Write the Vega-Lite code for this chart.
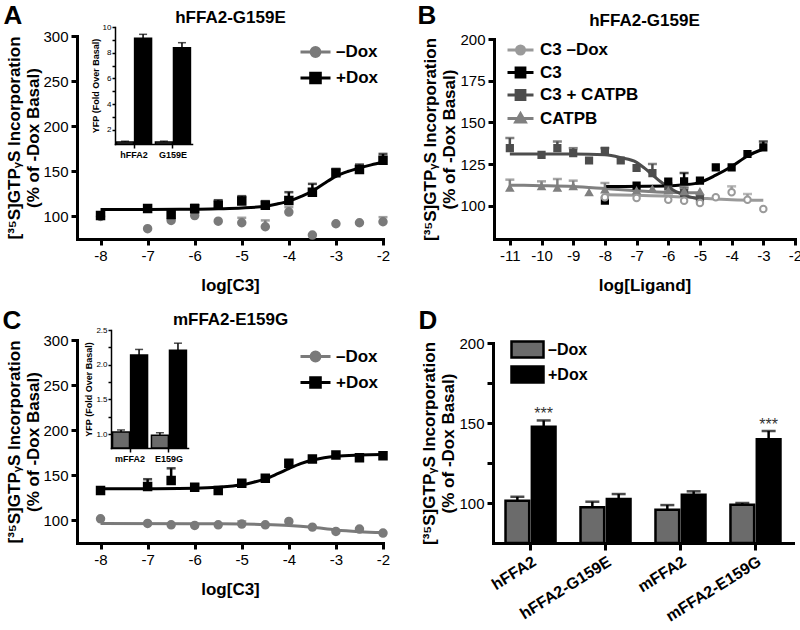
{
"$schema": "https://vega.github.io/schema/vega-lite/v6.json",
"background": "white",
"width": 800, "height": 630,
"autosize": {"type": "none"},
"padding": 0,
"config": {
 "font": "Liberation Sans",
 "view": {"stroke": null},
 "axis": {"domainColor": "#000", "domainWidth": 3, "domainCap": "square", "tickColor": "#000", "tickWidth": 3, "tickSize": 6, "labelFont": "Liberation Sans", "labelFontSize": 15, "labelColor": "#000", "labelPadding": 3, "labelFlush": false, "labelOverlap": false, "titleFont": "Liberation Sans", "titleFontSize": 17, "titleFontWeight": "bold", "titleColor": "#000", "grid": false},
 "legend": {"labelFont": "Liberation Sans", "labelFontSize": 17, "labelFontWeight": "bold", "labelColor": "#000", "padding": 0, "symbolStrokeWidth": 3, "symbolOpacity": 1}
},
"datasets": {
 "A_pts": [
  {"series": "–Dox", "x": -8, "y": 100},
  {"series": "–Dox", "x": -7, "y": 86.4},
  {"series": "–Dox", "x": -6.5, "y": 95.6},
  {"series": "–Dox", "x": -6, "y": 101},
  {"series": "–Dox", "x": -5.5, "y": 94.8},
  {"series": "–Dox", "x": -5, "y": 93, "hi": 98.5},
  {"series": "–Dox", "x": -4.5, "y": 88.6, "hi": 95.6},
  {"series": "–Dox", "x": -4, "y": 104.8, "hi": 110.3},
  {"series": "–Dox", "x": -3.5, "y": 79.4},
  {"series": "–Dox", "x": -3, "y": 91.9},
  {"series": "–Dox", "x": -2.5, "y": 93},
  {"series": "–Dox", "x": -2, "y": 94.1, "hi": 99.2},
  {"series": "+Dox", "x": -8, "y": 101},
  {"series": "+Dox", "x": -7, "y": 108.8},
  {"series": "+Dox", "x": -6.5, "y": 102.2},
  {"series": "+Dox", "x": -6, "y": 108.5, "hi": 113},
  {"series": "+Dox", "x": -5.5, "y": 112.5, "hi": 118},
  {"series": "+Dox", "x": -5, "y": 117, "hi": 122.5},
  {"series": "+Dox", "x": -4.5, "y": 112.5, "hi": 117},
  {"series": "+Dox", "x": -4, "y": 117.7, "hi": 126.9},
  {"series": "+Dox", "x": -3.5, "y": 126.9, "hi": 136.1},
  {"series": "+Dox", "x": -3, "y": 148.3, "hi": 152.7},
  {"series": "+Dox", "x": -2.5, "y": 152, "hi": 157.5},
  {"series": "+Dox", "x": -2, "y": 162.2, "hi": 169.3}
 ],
 "A_curve": [
  {"series": "+Dox", "x": -8, "y": 107.8},
  {"series": "+Dox", "x": -7, "y": 107.8},
  {"series": "+Dox", "x": -6, "y": 108},
  {"series": "+Dox", "x": -5.5, "y": 108.5},
  {"series": "+Dox", "x": -5, "y": 109.3},
  {"series": "+Dox", "x": -4.5, "y": 111.4},
  {"series": "+Dox", "x": -4.25, "y": 113.8},
  {"series": "+Dox", "x": -4, "y": 117},
  {"series": "+Dox", "x": -3.75, "y": 122},
  {"series": "+Dox", "x": -3.5, "y": 128},
  {"series": "+Dox", "x": -3.25, "y": 136.5},
  {"series": "+Dox", "x": -3, "y": 144.5},
  {"series": "+Dox", "x": -2.75, "y": 149.8},
  {"series": "+Dox", "x": -2.5, "y": 153.8},
  {"series": "+Dox", "x": -2.25, "y": 157.2},
  {"series": "+Dox", "x": -2, "y": 160}
 ],
 "A_inset": [
  {"g": "hFFA2", "dox": "–Dox", "val": 1.05, "hi": 1.12},
  {"g": "hFFA2", "dox": "+Dox", "val": 9.12, "hi": 9.43},
  {"g": "G159E", "dox": "–Dox", "val": 1.05, "hi": 1.12},
  {"g": "G159E", "dox": "+Dox", "val": 8.39, "hi": 8.78}
 ],
 "B_pts": [
  {"series": "C3 –Dox", "x": -8, "y": 105},
  {"series": "C3 –Dox", "x": -7, "y": 104.6},
  {"series": "C3 –Dox", "x": -6, "y": 103.6},
  {"series": "C3 –Dox", "x": -5.5, "y": 103},
  {"series": "C3 –Dox", "x": -5, "y": 101.6},
  {"series": "C3 –Dox", "x": -4.5, "y": 105},
  {"series": "C3 –Dox", "x": -4, "y": 108, "hi": 111.6},
  {"series": "C3 –Dox", "x": -3.5, "y": 103.6, "hi": 107},
  {"series": "C3 –Dox", "x": -3, "y": 98},
  {"series": "CATPB", "x": -11, "y": 110.6, "hi": 115.6},
  {"series": "CATPB", "x": -10, "y": 111.6, "hi": 114.6},
  {"series": "CATPB", "x": -9.5, "y": 110.6, "hi": 116},
  {"series": "CATPB", "x": -9, "y": 111.6, "hi": 115},
  {"series": "CATPB", "x": -8.5, "y": 108},
  {"series": "CATPB", "x": -8, "y": 109.6, "hi": 113.6},
  {"series": "CATPB", "x": -7, "y": 109},
  {"series": "CATPB", "x": -6.5, "y": 110},
  {"series": "CATPB", "x": -6, "y": 109},
  {"series": "CATPB", "x": -5.5, "y": 108.6, "hi": 111.6},
  {"series": "CATPB", "x": -5, "y": 108.5},
  {"series": "C3 + CATPB", "x": -11, "y": 134.5, "hi": 140.6},
  {"series": "C3 + CATPB", "x": -10, "y": 130.5},
  {"series": "C3 + CATPB", "x": -9.5, "y": 134.5, "hi": 138.5},
  {"series": "C3 + CATPB", "x": -9, "y": 131.5, "hi": 134.5},
  {"series": "C3 + CATPB", "x": -8.5, "y": 127.1},
  {"series": "C3 + CATPB", "x": -8, "y": 132.9, "hi": 134.5},
  {"series": "C3 + CATPB", "x": -7.5, "y": 127.1},
  {"series": "C3 + CATPB", "x": -7, "y": 122.6},
  {"series": "C3 + CATPB", "x": -6.5, "y": 119.5, "hi": 125},
  {"series": "C3 + CATPB", "x": -6, "y": 111.5},
  {"series": "C3 + CATPB", "x": -5.5, "y": 107.6, "hi": 110.5},
  {"series": "C3 + CATPB", "x": -5, "y": 104.5},
  {"series": "C3", "x": -8, "y": 103},
  {"series": "C3", "x": -7, "y": 112},
  {"series": "C3", "x": -6, "y": 114.5},
  {"series": "C3", "x": -5.5, "y": 114.6, "hi": 119.6},
  {"series": "C3", "x": -5, "y": 115},
  {"series": "C3", "x": -4.5, "y": 123},
  {"series": "C3", "x": -4, "y": 123},
  {"series": "C3", "x": -3.5, "y": 131},
  {"series": "C3", "x": -3, "y": 135, "hi": 138.5}
 ],
 "B_curve": [
  {"series": "C3 –Dox", "x": -8, "y": 106.5},
  {"series": "C3 –Dox", "x": -7, "y": 106.2},
  {"series": "C3 –Dox", "x": -6, "y": 105.7},
  {"series": "C3 –Dox", "x": -5, "y": 104.5},
  {"series": "C3 –Dox", "x": -4, "y": 103.5},
  {"series": "C3 –Dox", "x": -3, "y": 103.2},
  {"series": "CATPB", "x": -11, "y": 112.3},
  {"series": "CATPB", "x": -10, "y": 112},
  {"series": "CATPB", "x": -9, "y": 111.5},
  {"series": "CATPB", "x": -8, "y": 110.3},
  {"series": "CATPB", "x": -7, "y": 109},
  {"series": "CATPB", "x": -6, "y": 108},
  {"series": "CATPB", "x": -5, "y": 107.7},
  {"series": "C3 + CATPB", "x": -11, "y": 131},
  {"series": "C3 + CATPB", "x": -9, "y": 131},
  {"series": "C3 + CATPB", "x": -8, "y": 130.5},
  {"series": "C3 + CATPB", "x": -7.5, "y": 128.8},
  {"series": "C3 + CATPB", "x": -7, "y": 126},
  {"series": "C3 + CATPB", "x": -6.75, "y": 122.5},
  {"series": "C3 + CATPB", "x": -6.5, "y": 118.5},
  {"series": "C3 + CATPB", "x": -6.25, "y": 114.5},
  {"series": "C3 + CATPB", "x": -6, "y": 111},
  {"series": "C3 + CATPB", "x": -5.5, "y": 106.3},
  {"series": "C3 + CATPB", "x": -5, "y": 104},
  {"series": "C3", "x": -8, "y": 111.5},
  {"series": "C3", "x": -6, "y": 111.8},
  {"series": "C3", "x": -5.5, "y": 112.5},
  {"series": "C3", "x": -5, "y": 114},
  {"series": "C3", "x": -4.5, "y": 118.3},
  {"series": "C3", "x": -4, "y": 123.5},
  {"series": "C3", "x": -3.5, "y": 129.8},
  {"series": "C3", "x": -3, "y": 134}
 ],
 "C_pts": [
  {"series": "–Dox", "x": -8, "y": 101.8},
  {"series": "–Dox", "x": -7, "y": 96.7},
  {"series": "–Dox", "x": -6.5, "y": 95.2},
  {"series": "–Dox", "x": -6, "y": 94.5},
  {"series": "–Dox", "x": -5.5, "y": 95.2},
  {"series": "–Dox", "x": -5, "y": 96, "hi": 99},
  {"series": "–Dox", "x": -4.5, "y": 95.2},
  {"series": "–Dox", "x": -4, "y": 98.9},
  {"series": "–Dox", "x": -3.5, "y": 92.6},
  {"series": "–Dox", "x": -3, "y": 87.8},
  {"series": "–Dox", "x": -2.5, "y": 90.4},
  {"series": "–Dox", "x": -2, "y": 86},
  {"series": "+Dox", "x": -8, "y": 133.1},
  {"series": "+Dox", "x": -7, "y": 137.6, "hi": 145.7},
  {"series": "+Dox", "x": -6.5, "y": 144.2, "hi": 157.8},
  {"series": "+Dox", "x": -6, "y": 136.8, "hi": 140},
  {"series": "+Dox", "x": -5.5, "y": 133.1},
  {"series": "+Dox", "x": -5, "y": 141.3, "hi": 144},
  {"series": "+Dox", "x": -4.5, "y": 146.8},
  {"series": "+Dox", "x": -4, "y": 163.4},
  {"series": "+Dox", "x": -3.5, "y": 168.1},
  {"series": "+Dox", "x": -3, "y": 172.6},
  {"series": "+Dox", "x": -2.5, "y": 169.6},
  {"series": "+Dox", "x": -2, "y": 171.8}
 ],
 "C_curve": [
  {"series": "–Dox", "x": -8, "y": 96.5},
  {"series": "–Dox", "x": -6, "y": 96.4},
  {"series": "–Dox", "x": -5, "y": 96.1},
  {"series": "–Dox", "x": -4.5, "y": 95.6},
  {"series": "–Dox", "x": -4, "y": 94.5},
  {"series": "–Dox", "x": -3.5, "y": 92.4},
  {"series": "–Dox", "x": -3, "y": 89.4},
  {"series": "–Dox", "x": -2.5, "y": 87.6},
  {"series": "–Dox", "x": -2, "y": 86.5},
  {"series": "+Dox", "x": -8, "y": 135},
  {"series": "+Dox", "x": -7, "y": 135.2},
  {"series": "+Dox", "x": -6, "y": 135.7},
  {"series": "+Dox", "x": -5.5, "y": 136.8},
  {"series": "+Dox", "x": -5, "y": 139.5},
  {"series": "+Dox", "x": -4.75, "y": 142.3},
  {"series": "+Dox", "x": -4.5, "y": 146},
  {"series": "+Dox", "x": -4.25, "y": 151.5},
  {"series": "+Dox", "x": -4, "y": 157.5},
  {"series": "+Dox", "x": -3.75, "y": 163},
  {"series": "+Dox", "x": -3.5, "y": 167},
  {"series": "+Dox", "x": -3.25, "y": 169.6},
  {"series": "+Dox", "x": -3, "y": 171.2},
  {"series": "+Dox", "x": -2.5, "y": 172.5},
  {"series": "+Dox", "x": -2, "y": 173}
 ],
 "C_inset": [
  {"g": "mFFA2", "dox": "–Dox", "val": 1.03, "hi": 1.06},
  {"g": "mFFA2", "dox": "+Dox", "val": 2.14, "hi": 2.22},
  {"g": "E159G", "dox": "–Dox", "val": 0.985, "hi": 1.02},
  {"g": "E159G", "dox": "+Dox", "val": 2.21, "hi": 2.31}
 ],
 "D": [
  {"receptor": "hFFA2", "dox": "–Dox", "val": 101.4, "hi": 103.9, "sig": ""},
  {"receptor": "hFFA2", "dox": "+Dox", "val": 147.7, "hi": 151.6, "sig": "***"},
  {"receptor": "hFFA2-G159E", "dox": "–Dox", "val": 97.3, "hi": 100.8, "sig": ""},
  {"receptor": "hFFA2-G159E", "dox": "+Dox", "val": 102.5, "hi": 105.6, "sig": ""},
  {"receptor": "mFFA2", "dox": "–Dox", "val": 95.8, "hi": 98.7, "sig": ""},
  {"receptor": "mFFA2", "dox": "+Dox", "val": 105.2, "hi": 107.3, "sig": ""},
  {"receptor": "mFFA2-E159G", "dox": "–Dox", "val": 98.9, "hi": 100, "sig": ""},
  {"receptor": "mFFA2-E159G", "dox": "+Dox", "val": 139.8, "hi": 145, "sig": "***"}
 ]
},
"layer": [
 {
  "encoding": {
   "x": {"field": "x", "type": "quantitative", "scale": {"domain": [-8.5, -2], "range": [77, 383], "nice": false, "zero": false}, "axis": {"orient": "bottom", "offset": -391, "values": [-8, -7, -6, -5, -4, -3, -2], "labelExpr": "'' + datum.value", "title": "log[C3]", "titlePadding": 14}},
   "y": {"field": "y", "type": "quantitative", "scale": {"domain": [75, 300], "range": [239, 36], "nice": false, "zero": false}, "axis": {"orient": "left", "offset": -77, "values": [100, 150, 200, 250, 300], "title": ["[³⁵S]GTPᵧS Incorporation", "(% of -Dox Basal)"], "titlePadding": 0, "titleLineHeight": 19}},
   "color": {"field": "series", "type": "nominal", "scale": {"domain": ["–Dox", "+Dox"], "range": ["#7a7a7a", "#000000"]}, "legend": {"title": null, "orient": "none", "legendX": 307, "legendY": 43.5, "symbolSize": 64, "labelOffset": 12, "rowPadding": 4, "symbolStrokeWidth": 3, "symbolOpacity": 1}}
  },
  "layer": [
   {"data": {"name": "A_curve"}, "mark": {"type": "line", "strokeWidth": 3, "interpolate": "monotone"}},
   {"data": {"name": "A_pts"}, "transform": [{"filter": "isValid(datum.hi)"}], "mark": {"type": "rule", "strokeWidth": 2.5}, "encoding": {"y2": {"field": "hi"}}},
   {"data": {"name": "A_pts"}, "transform": [{"filter": "isValid(datum.hi)"}], "mark": {"type": "tick", "orient": "horizontal", "size": 9, "thickness": 2.5}, "encoding": {"y": {"field": "hi", "type": "quantitative", "axis": {"orient": "left", "offset": -77, "values": [100, 150, 200, 250, 300], "title": ["[³⁵S]GTPᵧS Incorporation", "(% of -Dox Basal)"], "titlePadding": 0, "titleLineHeight": 19}}}},
   {"data": {"name": "A_pts"}, "transform": [{"filter": "false"}], "mark": {"type": "point", "filled": false, "strokeWidth": 3, "opacity": 1}, "encoding": {
     "shape": {"field": "series", "type": "nominal", "scale": {"domain": ["–Dox", "+Dox"], "range": ["M-3.75,0H-1.1M1.1,0H3.75M-1.1,0A1.1,1.1,0,1,1,1.1,0A1.1,1.1,0,1,1,-1.1,0Z", "M-3.75,0H-1.2M1.2,0H3.75M-1.2,-1.2H1.2V1.2H-1.2Z"]}},
     "fill": {"field": "series", "type": "nominal", "scale": {"domain": ["–Dox", "+Dox"], "range": ["#7a7a7a", "#000000"]}}}},
   {"data": {"name": "A_pts"}, "transform": [{"filter": "datum.series === '–Dox'"}], "mark": {"type": "point", "shape": "circle", "filled": false, "strokeWidth": 2, "size": 56, "opacity": 1}, "encoding": {"fill": {"field": "series", "type": "nominal"}}},
   {"data": {"name": "A_pts"}, "transform": [{"filter": "datum.series === '+Dox'"}], "mark": {"type": "point", "shape": "square", "filled": false, "strokeWidth": 2, "size": 56, "opacity": 1}, "encoding": {"fill": {"field": "series", "type": "nominal"}}}
  ]
 },
 {
  "data": {"name": "A_inset"},
  "encoding": {
   "x": {"field": "g", "type": "nominal", "sort": null, "scale": {"range": [115, 192], "paddingInner": 0.1, "paddingOuter": 0.04}, "axis": {"orient": "bottom", "offset": -486, "title": null, "labelFontSize": 9, "labelFontWeight": "bold", "labelAngle": 0, "domainWidth": 1.5, "tickWidth": 1.5, "tickSize": 4, "labelPadding": 2, "bandPosition": 0.5}},
   "xOffset": {"field": "dox", "type": "nominal", "sort": null, "scale": {"domain": ["–Dox", "+Dox"], "paddingInner": 0.06}},
   "y": {"field": "val", "type": "quantitative", "scale": {"domain": [0.9, 10], "range": [144, 27], "nice": false, "zero": false}, "axis": {"orient": "left", "offset": -115, "values": [2, 3, 4, 5, 6, 7, 8, 9, 10], "labelExpr": "datum.value % 2 === 0 ? datum.label : ''", "title": "YFP (Fold Over Basal)", "titleFontSize": 9, "labelFontSize": 8, "domainWidth": 1.5, "tickWidth": 1.5, "tickSize": 3, "labelPadding": 1, "titlePadding": 2}}
  },
  "layer": [
   {"mark": {"type": "bar", "stroke": "#000", "strokeWidth": 1.5}, "encoding": {"y2": {"datum": 0.9}, "fill": {"field": "dox", "type": "nominal", "scale": {"domain": ["–Dox", "+Dox"], "range": ["#6b6b6b", "#000000"]}, "legend": null}}},
   {"mark": {"type": "rule", "strokeWidth": 1.5, "color": "#000"}, "encoding": {"y2": {"field": "hi"}}},
   {"mark": {"type": "tick", "thickness": 1.5, "size": 8, "color": "#000"}, "encoding": {"y": {"field": "hi", "type": "quantitative", "axis": {"orient": "left", "offset": -115, "values": [2, 3, 4, 5, 6, 7, 8, 9, 10], "labelExpr": "datum.value % 2 === 0 ? datum.label : ''", "title": "YFP (Fold Over Basal)", "titleFontSize": 9, "labelFontSize": 8, "domainWidth": 1.5, "tickWidth": 1.5, "tickSize": 3, "labelPadding": 1, "titlePadding": 2}}}}
  ]
 },
 {"data": {"name": "A_curve"}, "mark": {"type": "point", "opacity": 0}, "encoding": {
   "x": {"field": "x", "type": "quantitative", "axis": {"orient": "top", "offset": 0, "domain": false, "ticks": false, "labels": false, "title": "A", "titleFontSize": 26, "titleX": 3, "titleY": 23, "titleAlign": "left", "titleBaseline": "alphabetic", "titleAngle": 0}},
   "y": {"field": "y", "type": "quantitative", "axis": {"orient": "left", "offset": 0, "domain": false, "ticks": false, "labels": false, "title": "hFFA2-G159E", "titleFontSize": 17, "titleX": 230, "titleY": 22, "titleAlign": "center", "titleBaseline": "alphabetic", "titleAngle": 0}}}},
 {
  "encoding": {
   "x": {"field": "x", "type": "quantitative", "scale": {"domain": [-11.5, -2], "range": [494, 795], "nice": false, "zero": false}, "axis": {"orient": "bottom", "offset": -391, "values": [-11, -10, -9, -8, -7, -6, -5, -4, -3, -2], "labelExpr": "'' + datum.value", "title": "log[Ligand]", "titlePadding": 14}},
   "y": {"field": "y", "type": "quantitative", "scale": {"domain": [80, 200], "range": [239, 39], "nice": false, "zero": false}, "axis": {"orient": "left", "offset": -494, "values": [100, 125, 150, 175, 200], "title": ["[³⁵S]GTPᵧS Incorporation", "(% of -Dox Basal)"], "titlePadding": 1, "titleLineHeight": 19}},
   "color": {"field": "series", "type": "nominal", "scale": {"domain": ["C3 –Dox", "C3", "C3 + CATPB", "CATPB"], "range": ["#9a9a9a", "#000000", "#4d4d4d", "#808080"]}, "legend": {"title": null, "orient": "none", "legendX": 512, "legendY": 41.5, "symbolSize": 64, "labelOffset": 11, "rowPadding": 1.5, "symbolStrokeWidth": 3, "symbolOpacity": 1}}
  },
  "layer": [
   {"data": {"name": "B_curve"}, "mark": {"type": "line", "strokeWidth": 3, "interpolate": "monotone"}},
   {"data": {"name": "B_pts"}, "transform": [{"filter": "isValid(datum.hi)"}], "mark": {"type": "rule", "strokeWidth": 2.5}, "encoding": {"y2": {"field": "hi"}}},
   {"data": {"name": "B_pts"}, "transform": [{"filter": "isValid(datum.hi)"}], "mark": {"type": "tick", "orient": "horizontal", "size": 9, "thickness": 2.5}, "encoding": {"y": {"field": "hi", "type": "quantitative", "axis": {"orient": "left", "offset": -494, "values": [100, 125, 150, 175, 200], "title": ["[³⁵S]GTPᵧS Incorporation", "(% of -Dox Basal)"], "titlePadding": 1, "titleLineHeight": 19}}}},
   {"data": {"name": "B_pts"}, "transform": [{"filter": "false"}], "mark": {"type": "point", "filled": false, "strokeWidth": 3, "opacity": 1}, "encoding": {
     "shape": {"field": "series", "type": "nominal", "scale": {"domain": ["C3 –Dox", "C3", "C3 + CATPB", "CATPB"], "range": ["M-3.25,0H-1M1,0H3.25M-1,0A1,1,0,1,1,1,0A1,1,0,1,1,-1,0Z", "M-3.25,0H-1.1M1.1,0H3.25M-1.1,-1.1H1.1V1.1H-1.1Z", "M-3.25,0H-1.1M1.1,0H3.25M-1.1,-1.1H1.1V1.1H-1.1Z", "M-3.25,0H-0.7M0.7,0H3.25M0,-1.2L1.2,0.9H-1.2Z"]}},
     "fill": {"field": "series", "type": "nominal", "scale": {"domain": ["C3 –Dox", "C3", "C3 + CATPB", "CATPB"], "range": ["#ffffff", "#000000", "#4d4d4d", "#808080"]}}}},
   {"data": {"name": "B_pts"}, "transform": [{"filter": "datum.series === 'C3 + CATPB' || datum.series === 'C3'"}], "mark": {"type": "point", "shape": "square", "filled": false, "strokeWidth": 1.5, "size": 45, "opacity": 1}, "encoding": {"fill": {"field": "series", "type": "nominal"}}},
   {"data": {"name": "B_pts"}, "transform": [{"filter": "datum.series === 'CATPB'"}], "mark": {"type": "point", "shape": "triangle-up", "filled": false, "strokeWidth": 1.5, "size": 50, "opacity": 1}, "encoding": {"fill": {"field": "series", "type": "nominal"}}},
   {"data": {"name": "B_pts"}, "transform": [{"filter": "datum.series === 'C3 –Dox'"}], "mark": {"type": "point", "shape": "circle", "filled": false, "strokeWidth": 2, "size": 42, "opacity": 1}, "encoding": {"fill": {"field": "series", "type": "nominal"}}}
  ]
 },
 {"data": {"name": "B_curve"}, "mark": {"type": "point", "opacity": 0}, "encoding": {
   "x": {"field": "x", "type": "quantitative", "axis": {"orient": "top", "offset": 0, "domain": false, "ticks": false, "labels": false, "title": "B", "titleFontSize": 26, "titleX": 417, "titleY": 23, "titleAlign": "left", "titleBaseline": "alphabetic", "titleAngle": 0}},
   "y": {"field": "y", "type": "quantitative", "axis": {"orient": "left", "offset": 0, "domain": false, "ticks": false, "labels": false, "title": "hFFA2-G159E", "titleFontSize": 17, "titleX": 644, "titleY": 25, "titleAlign": "center", "titleBaseline": "alphabetic", "titleAngle": 0}}}},
 {
  "encoding": {
   "x": {"field": "x", "type": "quantitative", "scale": {"domain": [-8.5, -2], "range": [77, 383], "nice": false, "zero": false}, "axis": {"orient": "bottom", "offset": -87, "values": [-8, -7, -6, -5, -4, -3, -2], "labelExpr": "'' + datum.value", "title": "log[C3]", "titlePadding": 14}},
   "y": {"field": "y", "type": "quantitative", "scale": {"domain": [75, 300], "range": [543, 340], "nice": false, "zero": false}, "axis": {"orient": "left", "offset": -77, "values": [100, 150, 200, 250, 300], "title": ["[³⁵S]GTPᵧS Incorporation", "(% of -Dox Basal)"], "titlePadding": 0, "titleLineHeight": 19}},
   "color": {"field": "series", "type": "nominal", "scale": {"domain": ["–Dox", "+Dox"], "range": ["#7a7a7a", "#000000"]}, "legend": {"title": null, "orient": "none", "legendX": 307, "legendY": 348, "symbolSize": 64, "labelOffset": 12, "rowPadding": 4, "symbolStrokeWidth": 3, "symbolOpacity": 1}}
  },
  "layer": [
   {"data": {"name": "C_curve"}, "mark": {"type": "line", "strokeWidth": 3, "interpolate": "monotone"}},
   {"data": {"name": "C_pts"}, "transform": [{"filter": "isValid(datum.hi)"}], "mark": {"type": "rule", "strokeWidth": 2.5}, "encoding": {"y2": {"field": "hi"}}},
   {"data": {"name": "C_pts"}, "transform": [{"filter": "isValid(datum.hi)"}], "mark": {"type": "tick", "orient": "horizontal", "size": 9, "thickness": 2.5}, "encoding": {"y": {"field": "hi", "type": "quantitative", "axis": {"orient": "left", "offset": -77, "values": [100, 150, 200, 250, 300], "title": ["[³⁵S]GTPᵧS Incorporation", "(% of -Dox Basal)"], "titlePadding": 0, "titleLineHeight": 19}}}},
   {"data": {"name": "C_pts"}, "transform": [{"filter": "false"}], "mark": {"type": "point", "filled": false, "strokeWidth": 3, "opacity": 1}, "encoding": {
     "shape": {"field": "series", "type": "nominal", "scale": {"domain": ["–Dox", "+Dox"], "range": ["M-3.75,0H-1.1M1.1,0H3.75M-1.1,0A1.1,1.1,0,1,1,1.1,0A1.1,1.1,0,1,1,-1.1,0Z", "M-3.75,0H-1.2M1.2,0H3.75M-1.2,-1.2H1.2V1.2H-1.2Z"]}},
     "fill": {"field": "series", "type": "nominal", "scale": {"domain": ["–Dox", "+Dox"], "range": ["#7a7a7a", "#000000"]}}}},
   {"data": {"name": "C_pts"}, "transform": [{"filter": "datum.series === '–Dox'"}], "mark": {"type": "point", "shape": "circle", "filled": false, "strokeWidth": 2, "size": 56, "opacity": 1}, "encoding": {"fill": {"field": "series", "type": "nominal"}}},
   {"data": {"name": "C_pts"}, "transform": [{"filter": "datum.series === '+Dox'"}], "mark": {"type": "point", "shape": "square", "filled": false, "strokeWidth": 2, "size": 56, "opacity": 1}, "encoding": {"fill": {"field": "series", "type": "nominal"}}}
  ]
 },
 {
  "data": {"name": "C_inset"},
  "encoding": {
   "x": {"field": "g", "type": "nominal", "sort": null, "scale": {"range": [111, 188], "paddingInner": 0.1, "paddingOuter": 0.04}, "axis": {"orient": "bottom", "offset": -182, "title": null, "labelFontSize": 9, "labelFontWeight": "bold", "labelAngle": 0, "domainWidth": 1.5, "tickWidth": 1.5, "tickSize": 4, "labelPadding": 2, "bandPosition": 0.5}},
   "xOffset": {"field": "dox", "type": "nominal", "sort": null, "scale": {"domain": ["–Dox", "+Dox"], "paddingInner": 0.06}},
   "y": {"field": "val", "type": "quantitative", "scale": {"domain": [0.8, 2.5], "range": [448, 330], "nice": false, "zero": false}, "axis": {"orient": "left", "offset": -111, "values": [1, 1.25, 1.5, 1.75, 2, 2.25, 2.5], "labelExpr": "(datum.value * 2) % 1 === 0 ? format(datum.value, '.1f') : ''", "title": "YFP (Fold Over Basal)", "titleFontSize": 9, "labelFontSize": 8, "domainWidth": 1.5, "tickWidth": 1.5, "tickSize": 3, "labelPadding": 1, "titlePadding": 2}}
  },
  "layer": [
   {"mark": {"type": "bar", "stroke": "#000", "strokeWidth": 1.5}, "encoding": {"y2": {"datum": 0.8}, "fill": {"field": "dox", "type": "nominal", "scale": {"domain": ["–Dox", "+Dox"], "range": ["#6b6b6b", "#000000"]}, "legend": null}}},
   {"mark": {"type": "rule", "strokeWidth": 1.5, "color": "#000"}, "encoding": {"y2": {"field": "hi"}}},
   {"mark": {"type": "tick", "thickness": 1.5, "size": 8, "color": "#000"}, "encoding": {"y": {"field": "hi", "type": "quantitative", "axis": {"orient": "left", "offset": -111, "values": [1, 1.25, 1.5, 1.75, 2, 2.25, 2.5], "labelExpr": "(datum.value * 2) % 1 === 0 ? format(datum.value, '.1f') : ''", "title": "YFP (Fold Over Basal)", "titleFontSize": 9, "labelFontSize": 8, "domainWidth": 1.5, "tickWidth": 1.5, "tickSize": 3, "labelPadding": 1, "titlePadding": 2}}}}
  ]
 },
 {"data": {"name": "C_curve"}, "mark": {"type": "point", "opacity": 0}, "encoding": {
   "x": {"field": "x", "type": "quantitative", "axis": {"orient": "top", "offset": 0, "domain": false, "ticks": false, "labels": false, "title": "C", "titleFontSize": 26, "titleX": 2, "titleY": 328, "titleAlign": "left", "titleBaseline": "alphabetic", "titleAngle": 0}},
   "y": {"field": "y", "type": "quantitative", "axis": {"orient": "left", "offset": 0, "domain": false, "ticks": false, "labels": false, "title": "mFFA2-E159G", "titleFontSize": 17, "titleX": 230, "titleY": 324, "titleAlign": "center", "titleBaseline": "alphabetic", "titleAngle": 0}}}},
 {
  "data": {"name": "D"},
  "encoding": {
   "x": {"field": "receptor", "type": "nominal", "sort": null, "scale": {"range": [493, 793], "paddingInner": 0.333, "paddingOuter": 0.167}, "axis": {"orient": "bottom", "offset": -87, "title": null, "labelAngle": -32, "labelAlign": "right", "labelBaseline": "top", "labelFontWeight": "bold", "labelFontSize": 16, "tickSize": 7, "bandPosition": 0.5, "labelPadding": 3}},
   "xOffset": {"field": "dox", "type": "nominal", "sort": null, "scale": {"domain": ["–Dox", "+Dox"], "paddingInner": 0.1}},
   "y": {"field": "val", "type": "quantitative", "scale": {"domain": [75, 200], "range": [543, 343], "nice": false, "zero": false}, "axis": {"orient": "left", "offset": -493, "values": [100, 125, 150, 175, 200], "labelExpr": "datum.value % 50 === 0 ? datum.label : ''", "title": ["[³⁵S]GTPᵧS Incorporation", "(% of -Dox Basal)"], "titlePadding": 1, "titleLineHeight": 19}}
  },
  "layer": [
   {"mark": {"type": "bar", "stroke": "#000", "strokeWidth": 2.5}, "encoding": {"y2": {"datum": 75}, "fill": {"field": "dox", "type": "nominal", "scale": {"domain": ["–Dox", "+Dox"], "range": ["#6b6b6b", "#000000"]}, "legend": {"title": null, "orient": "none", "legendX": 518, "legendY": 340, "symbolSize": 256, "symbolType": "M-2,-1H2V1H-2Z", "symbolStrokeColor": "#000", "symbolStrokeWidth": 2.5, "labelOffset": 11, "rowPadding": -2, "labelFontSize": 16}}}},
   {"mark": {"type": "rule", "strokeWidth": 2.5, "color": "#000"}, "encoding": {"y2": {"field": "hi"}}},
   {"mark": {"type": "tick", "thickness": 2.5, "size": 14, "color": "#000"}, "encoding": {"y": {"field": "hi", "type": "quantitative", "axis": {"orient": "left", "offset": -493, "values": [100, 125, 150, 175, 200], "labelExpr": "datum.value % 50 === 0 ? datum.label : ''", "title": ["[³⁵S]GTPᵧS Incorporation", "(% of -Dox Basal)"], "titlePadding": 1, "titleLineHeight": 19}}}},
   {"transform": [{"filter": "datum.sig != ''"}], "mark": {"type": "text", "fontSize": 16, "dy": -1.5, "baseline": "alphabetic", "color": "#333"}, "encoding": {"y": {"field": "hi", "type": "quantitative", "axis": {"orient": "left", "offset": -493, "values": [100, 125, 150, 175, 200], "labelExpr": "datum.value % 50 === 0 ? datum.label : ''", "title": ["[³⁵S]GTPᵧS Incorporation", "(% of -Dox Basal)"], "titlePadding": 1, "titleLineHeight": 19}}, "text": {"field": "sig"}}}
  ]
 },
 {"data": {"name": "D"}, "mark": {"type": "point", "opacity": 0}, "encoding": {
   "x": {"field": "val", "type": "quantitative", "axis": {"orient": "top", "offset": 0, "domain": false, "ticks": false, "labels": false, "title": "D", "titleFontSize": 26, "titleX": 418, "titleY": 328, "titleAlign": "left", "titleBaseline": "alphabetic", "titleAngle": 0}}}}
],
"resolve": {"scale": {"x": "independent", "y": "independent", "color": "independent", "fill": "independent", "shape": "independent", "xOffset": "independent"}}
}
